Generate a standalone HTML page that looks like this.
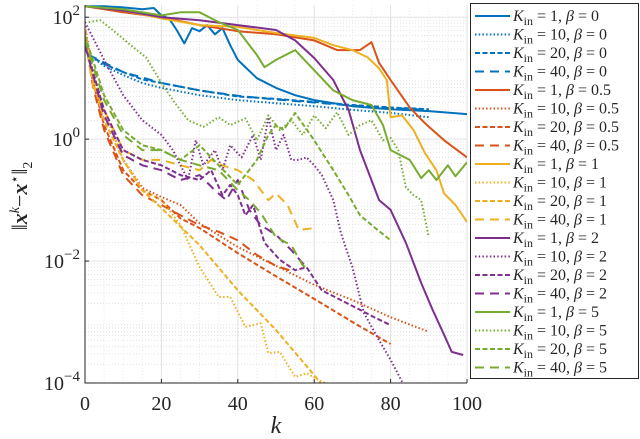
<!DOCTYPE html>
<html><head><meta charset="utf-8"><style>
html,body{margin:0;padding:0;background:#fff;}
svg{display:block;}
svg text{font-family:"Liberation Serif","DejaVu Serif",serif;}
</style></head><body>
<svg id="chart" width="640" height="439" viewBox="0 0 640 439" font-family="Liberation Serif, serif"></svg>
<script>
// x values: iteration k ; y values: log10 of ||x^k - x*||_2
const b1k=[0,5,10,15,18,20,22,24,26,28,30,32,34,36,38,40,45,50,55,60,70,80,90,100];
const b1v=[2.18,2.18,2.16,2.13,2.15,2.03,1.98,1.79,1.57,1.82,1.77,1.87,1.72,1.82,1.54,1.30,1.0,0.84,0.72,0.64,0.54,0.49,0.46,0.41];
const b10k=[1,5,10,15,20,30,40,50,60,70,80,90];
const b10v=[1.38,1.20,1.05,0.92,0.84,0.72,0.64,0.59,0.54,0.48,0.43,0.36];
const b20k=[1,5,10,15,20,30,40,50,60,70,80,90];
const b20v=[1.38,1.23,1.10,0.98,0.92,0.80,0.70,0.66,0.61,0.56,0.52,0.49];
const b40k=[1,10,20,30,40,50,60,70,80,90];
const b40v=[1.38,1.10,0.92,0.80,0.71,0.65,0.60,0.55,0.51,0.48];
const r1k=[0,10,20,30,40,50,60,66,72,75,77,80,85,89,94,100];
const r1v=[2.18,2.08,2.0,1.87,1.77,1.72,1.62,1.46,1.46,1.59,1.25,0.97,0.52,0.26,-0.02,-0.30];
const r10k=[0,2,5,10,15,20,25,30,40,50,60,70,80,90];
const r10v=[1.85,1.13,0.48,-0.34,-0.80,-0.95,-1.08,-1.38,-1.77,-2.08,-2.39,-2.64,-2.92,-3.16];
const r20k=[0,2,5,10,15,20,25,30,40,50,60,70,80];
const r20v=[1.79,0.97,0.23,-0.51,-0.84,-1.0,-1.30,-1.46,-1.87,-2.25,-2.62,-3.0,-3.36];
const r40k=[0,2,5,10,15,20,25,30,35,40,45,50,55];
const r40v=[1.70,0.89,0.15,-0.59,-0.92,-1.08,-1.25,-1.41,-1.52,-1.66,-1.90,-2.08,-2.18];
const y1k=[0,10,20,30,40,50,60,65,70,74,77,79,80,83,86,89,92,94,97,100];
const y1v=[2.18,2.11,1.98,1.87,1.84,1.74,1.66,1.54,1.46,1.34,1.16,0.97,0.36,0.39,0.15,-0.23,-0.51,-0.89,-1.08,-1.36];
const y10k=[0,2,5,10,15,20,25,30,35,38,42,46,48,51,55,58,62,66];
const y10v=[1.79,1.05,0.48,-0.34,-0.84,-1.0,-1.41,-2.10,-2.59,-2.59,-3.08,-3.02,-3.51,-3.49,-3.90,-3.84,-3.98,-4.05];
const y20k=[0,2,5,10,15,20,30,40,50,62];
const y20v=[1.70,0.97,0.31,-0.34,-0.84,-1.13,-1.74,-2.48,-3.13,-4.02];
const y40k=[0,2,5,10,15,20,25,30,33,36,40,44,48,50,53,56,60];
const y40v=[1.66,0.89,0.48,-0.18,-0.34,-0.34,-0.43,-0.51,-0.34,-0.43,-0.51,-0.67,-1.0,-0.89,-1.08,-1.49,-1.46];
const p1k=[0,10,20,30,40,50,55,60,65,67,69,72,77,80,84,88,91,94,96,99];
const p1v=[2.18,2.11,2.0,1.95,1.87,1.79,1.62,1.33,0.97,0.72,0.48,-0.18,-1.0,-1.16,-1.70,-2.36,-2.80,-3.21,-3.49,-3.54];
const p10k=[0,5,10,15,20,23,25,27,29,31,34,36,38,41,44,46,48,50,52,54,56,58,60,62,65,67,70,73,77,80,83];
const p10v=[1.92,1.30,0.72,0.31,0.07,-0.18,-0.43,-0.67,-0.02,-0.43,-0.18,-0.51,-0.10,-0.30,0.07,-0.34,0.36,-0.18,0.07,-0.34,-0.34,-0.30,-0.43,-0.59,-1.0,-1.54,-2.10,-2.85,-3.30,-3.62,-3.98];
const p20k=[0,5,10,15,20,25,30,33,36,38,40,42,44,47,51,55,58,62,67,72,76,80];
const p20v=[1.54,0.48,-0.18,-0.34,-0.43,-0.59,-0.67,-0.51,-0.92,-0.75,-0.92,-1.25,-1.08,-1.70,-1.98,-2.15,-2.10,-2.48,-2.64,-2.80,-2.93,-3.05];
const p40k=[0,5,10,15,20,25,30,34,37,40,43,46,50,54,58];
const p40v=[1.54,0.39,-0.26,-0.43,-0.51,-0.67,-0.59,-0.84,-1.0,-0.67,-1.16,-1.41,-1.57,-1.82,-2.11];
const g1k=[0,10,20,25,30,35,40,45,47,50,55,60,65,70,75,78,80,85,88,90,92,95,97,100];
const g1v=[2.18,2.13,2.03,2.08,2.08,1.92,1.79,1.38,1.18,1.30,1.46,1.13,0.80,0.64,0.56,0.23,-0.18,-0.34,-0.64,-0.51,-0.67,-0.43,-0.61,-0.38];
const g10k=[1,4,8,12,16,20,23,27,31,35,38,42,45,48,51,54,57,60,63,66,69,72,75,78,80,82,84,86,88,90];
const g10v=[1.92,1.95,1.75,1.54,1.34,0.92,0.64,0.31,0.20,0.36,0.23,0.34,-0.02,0.39,0.15,0.31,0.07,0.39,0.18,0.44,0.07,0.23,0.31,-0.02,0.02,-0.18,-0.79,-0.92,-1.0,-1.61];
const g20k=[0,5,10,15,20,25,30,35,40,45,48,50,52,55,60,65,69,72,76,80];
const g20v=[1.70,0.72,0.15,-0.10,-0.18,-0.34,-0.10,-0.43,-0.75,-0.34,0.07,0.23,0.15,0.43,-0.02,-0.51,-0.92,-1.25,-1.46,-1.66];
const g40k=[0,5,10,15,20,25,30,35,40,43,46,50,54,57,59];
const g40v=[1.62,0.64,0.07,-0.18,-0.18,-0.34,-0.43,-0.51,-0.84,-1.0,-1.21,-1.61,-1.74,-2.07,-2.15];
const xTicks=[0,20,40,60,80,100];
const yTicks=[2,0,-2,-4];
const betas=["0","0.5","1","2","5"];
const kins=["1","10","20","40"];

const NS="http://www.w3.org/2000/svg";
const FF="Liberation Serif, DejaVu Serif, serif";
const svg=document.getElementById("chart");
const L=85,R=467,T=5,B=383,lmin=-4,lmax=2.2;
const X=k=>L+(k/100)*(R-L);
const Y=v=>B-(v-lmin)/(lmax-lmin)*(B-T);
function mk(t,a,p){const e=document.createElementNS(NS,t);for(const q in a)e.setAttribute(q,a[q]);if(t==="text")e.setAttribute("font-family",FF);(p||svg).appendChild(e);return e;}

const grid=mk("g",{});


for(let d=-4;d<2.2;d++){for(let m=2;m<=9;m++){const v=d+Math.log10(m);if(v>lmax)continue;
 mk("line",{x1:L,x2:R,y1:Y(v),y2:Y(v),stroke:"#dcdcdc","stroke-width":0.8,"stroke-dasharray":"1,2"},grid);}}
for(let k=5;k<100;k+=5){if(k%20)mk("line",{x1:X(k),x2:X(k),y1:T,y2:B,stroke:"#e6e6e6","stroke-width":0.8,"stroke-dasharray":"1,2"},grid);}
xTicks.forEach(k=>mk("line",{x1:X(k),x2:X(k),y1:T,y2:B,stroke:"#e2e2e2","stroke-width":1},grid));
yTicks.forEach(v=>mk("line",{x1:L,x2:R,y1:Y(v),y2:Y(v),stroke:"#e2e2e2","stroke-width":1},grid));

const cp=mk("clipPath",{id:"cp"});
mk("rect",{x:L,y:T,width:R-L,height:B-T},cp);

const colors=["#0072BD","#D95319","#EDB120","#7E2F8E","#77AC30"];
const dashes=["none","1.5,2.2","5,2.5","9,6"];
const series=[[b1k,b1v],[b10k,b10v],[b20k,b20v],[b40k,b40v],[r1k,r1v],[r10k,r10v],[r20k,r20v],[r40k,r40v],
[y1k,y1v],[y10k,y10v],[y20k,y20v],[y40k,y40v],[p1k,p1v],[p10k,p10v],[p20k,p20v],[p40k,p40v],[g1k,g1v],[g10k,g10v],[g20k,g20v],[g40k,g40v]];
const plot=mk("g",{"clip-path":"url(#cp)"});


series.forEach((s,i)=>{const bi=Math.floor(i/4),ki=i%4;
 const d=s[0].map((k,j)=>(j?"L":"M")+X(k).toFixed(1)+","+Y(s[1][j]).toFixed(1)).join("");
 const p=mk("path",{d:d,fill:"none",stroke:colors[bi],"stroke-width":2,"stroke-dasharray":dashes[ki],"stroke-linejoin":"round"},plot);
 
 
});

const ax=mk("path",{d:`M${L},${T}V${B}H${R}`,fill:"none",stroke:"#262626","stroke-width":1});


xTicks.forEach(k=>{mk("line",{x1:X(k),x2:X(k),y1:B,y2:B-4,stroke:"#262626"});
 const t=mk("text",{x:X(k),y:B+27,"text-anchor":"middle","font-size":20,fill:"#262626"});t.textContent=k;
 
 });
yTicks.forEach(v=>{mk("line",{x1:L,x2:L+4,y1:Y(v),y2:Y(v),stroke:"#262626"});
 const t=mk("text",{x:L-5,y:Y(v)+7,"text-anchor":"end","font-size":20,fill:"#262626"});
 
 
 const a=document.createElementNS(NS,"tspan");a.textContent="10";t.appendChild(a);
 const b=document.createElementNS(NS,"tspan");b.setAttribute("dy","-9");b.setAttribute("font-size","15");b.textContent=(v<0?"\u2212":"")+Math.abs(v);t.appendChild(b);});

const xl=mk("text",{x:276,y:433,"text-anchor":"middle","font-size":24,"font-style":"italic",fill:"#262626"});xl.textContent="k";


const yl=mk("text",{x:0,y:0,transform:"translate(27,196) rotate(-90)","text-anchor":"middle","font-size":22,fill:"#262626"});


yl.innerHTML='‖<tspan font-weight="bold" font-style="italic">x</tspan><tspan dy="-8" font-size="14" font-style="italic">k</tspan><tspan dy="8">−</tspan><tspan font-weight="bold" font-style="italic">x</tspan><tspan dy="-8" font-size="14">⋆</tspan><tspan dy="8">‖</tspan><tspan dy="5" font-size="14">2</tspan>';

const lg=mk("g",{});


mk("rect",{x:470.5,y:3.5,width:168,height:375,fill:"#fff",stroke:"#262626","stroke-width":1},lg);
series.forEach((s,i)=>{const bi=Math.floor(i/4),ki=i%4,yy=16+i*18.5;
 const e=mk("g",{},lg);
 
 
 mk("line",{x1:475,x2:510,y1:yy,y2:yy,stroke:colors[bi],"stroke-width":2,"stroke-dasharray":dashes[ki]},e);
 const t=mk("text",{x:513,y:yy+5,"font-size":16,fill:"#262626"},e);
 t.innerHTML='<tspan font-style="italic">K</tspan><tspan dy="4" font-size="12">in</tspan><tspan dy="-4"> = '+kins[ki]+', </tspan><tspan font-style="italic">β</tspan> = '+betas[bi];
});
</script>
</body></html>
